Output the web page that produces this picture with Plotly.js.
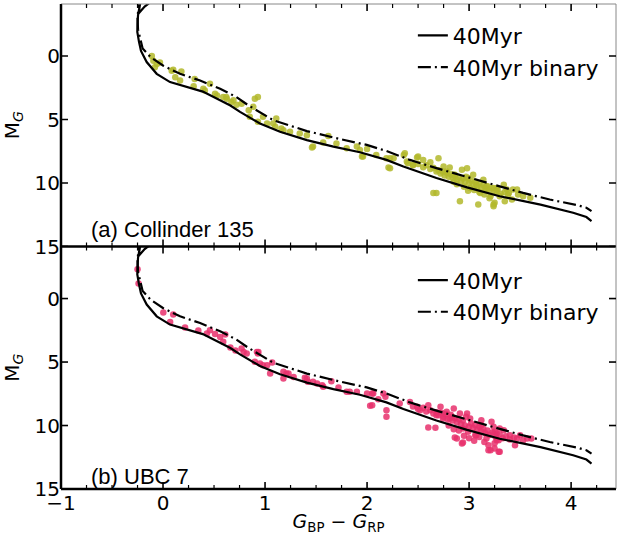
<!DOCTYPE html>
<html><head><meta charset="utf-8">
<script src="https://cdn.plot.ly/plotly-3.0.1.min.js"></script>
<style>html,body{margin:0;padding:0;background:#fff}#chart{width:621px;height:535px}</style>
</head><body><div id="chart"></div>
<script>
// 40 Myr isochrone (single stars): colour BP-RP and absolute G
const isoColor = [0.0,-0.1,-0.18,-0.24,-0.215,-0.23,-0.245,-0.25,-0.252,-0.235,-0.216,-0.16,-0.062,0.069,0.232,0.39,0.53,0.66,0.755,0.95,1.147,1.41,1.67,1.93,2.19,2.356,2.68,2.98,3.30,3.70,4.02,4.15,4.20];
const isoMag   = [-5.0,-4.4,-3.9,-3.35,-4.6,-3.9,-3.2,-2.5,-1.9,-1.1,-0.4,0.47,1.4,2.05,2.45,2.8,3.36,3.9,4.4,5.31,5.96,6.62,7.13,7.58,8.18,8.70,9.61,10.34,11.04,11.70,12.34,12.68,13.0];
// 40 Myr equal-mass binary sequence
const binColor = [-0.22,-0.24,-0.25,-0.245,-0.2,-0.12,0.003,0.167,0.363,0.56,0.72,0.836,1.08,1.41,1.735,1.997,2.19,2.42,2.68,2.98,3.30,3.53,3.79,4.06,4.15,4.20];
const binMag   = [-4.8,-3.9,-3.0,-2.1,-0.6,0.1,0.76,1.4,1.93,2.58,3.23,3.88,5.05,5.91,6.54,7.0,7.48,8.18,8.83,9.55,10.26,10.78,11.3,11.74,11.95,12.21];

// (a) Collinder 135 members
const colX = [-0.11,-0.095,-0.06,-0.03,-0.08,0.085,0.18,0.12,0.31,0.46,0.30,0.395,0.51,0.59,0.625,0.67,0.72,0.77,0.10,0.167,0.41,0.53,0.62,0.69,0.90,0.93,0.885,0.85,0.93,1.02,1.11,1.10,1.18,1.245,1.34,1.41,1.47,0.84,0.98,1.08,1.16,1.46,1.57,1.62,1.70,1.80,1.90,1.93,2.0,1.96,2.09,2.19,2.21,1.95,2.26,2.36,2.39,2.49,2.55,2.62,2.70,2.68,2.75,2.78,2.85,2.91,2.93,2.98,2.99,3.04,3.07,3.09,3.14,3.17,3.24,3.27,3.34,3.39,3.43,3.48,3.60,2.225,2.37,2.50,2.81,2.65,2.86,3.01,3.11,3.17,3.21,3.25,2.225,2.45,3.24,3.27,3.24,3.30,3.37,3.42,3.47,3.53,3.35,
  2.40,2.45,2.50,2.55,2.58,2.62,2.65,2.68,2.70,2.72,2.74,2.76,2.78,2.80,2.82,2.84,2.86,2.88,2.90,2.92,2.94,2.96,2.97,3.00,3.02,3.04,3.06,3.08,3.10,3.12,3.14,3.16,3.18,3.20,3.22,3.25,3.28,3.31,3.35,3.38,2.95,3.05,2.88,3.15,2.99,3.10,2.85,3.20];
const colY = [0.0,0.37,0.62,0.5,0.88,1.15,1.22,1.66,1.8,2.19,2.37,2.58,2.97,3.23,3.36,3.62,3.83,3.75,1.07,1.93,2.71,3.1,3.23,3.49,3.36,3.23,4.0,4.79,5.18,5.31,4.92,5.57,5.84,5.96,6.09,6.23,7.13,4.27,4.79,5.31,5.7,7.21,6.8,6.3,6.88,7.27,7.13,7.4,7.32,7.91,7.79,8.05,8.77,7.91,8.05,7.79,8.3,7.99,8.18,8.36,8.05,10.78,8.70,9.09,9.35,11.43,8.96,8.83,9.61,9.35,10.13,11.7,9.74,10.52,11.82,10.39,10.13,10.78,10.52,10.91,11.17,8.05,7.66,7.91,8.77,10.78,9.35,10.39,10.78,10.26,11.04,11.56,8.83,8.57,10.39,10.65,11.7,11.04,10.52,11.3,10.52,11.04,11.43,
  8.45,8.6,8.5,8.75,8.6,8.9,8.8,9.1,9.0,9.25,9.1,9.4,9.2,9.5,9.3,9.6,9.45,9.75,9.55,9.85,9.65,9.9,9.5,10.0,9.8,10.1,9.9,10.25,10.0,10.35,10.15,10.45,10.25,10.6,10.4,10.7,10.5,10.85,10.7,10.95,10.3,10.55,10.1,10.9,10.6,10.7,9.9,11.2];

// (b) UBC 7 members
const ubcX = [-0.25,-0.24,0.003,0.10,0.07,0.216,0.346,0.43,0.46,0.51,0.56,0.61,0.59,0.66,0.71,0.77,0.82,0.92,0.93,0.98,0.95,1.02,1.07,1.18,1.18,1.21,1.28,1.41,1.47,0.79,0.935,0.90,1.05,1.23,1.42,1.51,1.57,1.65,1.72,1.80,1.90,2.0,2.06,2.03,2.18,2.19,2.19,1.39,1.56,1.83,2.05,2.05,2.11,2.32,2.42,2.49,2.60,2.60,2.67,2.72,2.78,2.81,2.86,2.85,2.91,2.94,2.98,3.01,2.99,2.94,3.06,3.12,3.17,3.21,3.22,3.27,3.29,3.34,3.40,3.47,3.50,3.61,2.16,2.52,2.68,2.745,2.83,2.88,2.93,3.07,3.12,3.19,3.24,3.25,3.27,3.19,3.30,3.25,3.30,3.45,3.53,3.57,3.29,
  2.45,2.5,2.55,2.58,2.62,2.65,2.68,2.70,2.73,2.75,2.77,2.79,2.82,2.84,2.86,2.88,2.90,2.92,2.94,2.96,2.97,3.00,3.02,3.04,3.06,3.08,3.10,3.12,3.14,3.16,3.18,3.20,3.23,3.26,3.30,3.33,3.36,3.40,3.44,2.90,2.95,3.05,3.1,2.85,3.15,3.0,3.25,2.8];
const ubcY = [-2.3,-1.18,1.1,1.26,1.84,2.27,2.52,2.76,2.49,2.8,3.02,2.83,3.41,3.85,4.1,3.94,4.33,4.2,4.33,5.25,5.12,5.25,5.04,5.77,6.30,5.91,6.17,6.30,6.56,4.2,4.2,4.98,5.91,5.91,6.56,6.69,6.95,6.51,7.0,7.35,7.35,7.48,7.48,8.45,7.74,8.80,9.31,6.24,6.83,7.35,8.40,7.48,7.93,8.27,8.14,8.53,8.40,10.16,10.18,8.53,8.92,9.45,10.94,8.66,9.06,10.24,9.06,9.45,10.50,11.34,10.76,9.97,11.02,11.94,9.71,10.63,12.07,10.37,10.76,11.02,10.76,11.02,7.48,8.80,9.19,9.45,9.31,11.02,11.42,10.76,9.58,11.55,10.10,10.50,11.16,11.94,10.24,11.81,12.07,11.55,11.16,11.02,11.16,
  8.5,8.7,8.6,8.9,8.8,9.05,8.95,9.2,9.0,9.3,9.1,9.5,9.15,9.6,9.4,9.75,9.5,9.9,9.6,10.0,9.3,10.1,9.85,10.2,9.95,10.35,10.1,10.45,10.25,10.6,10.4,10.75,10.55,10.9,10.7,11.0,10.85,11.1,10.95,10.4,10.8,11.2,10.9,10.3,11.3,11.0,11.4,10.0];

// axis ticks
const xMajorTicks = [-1,0,1,2,3,4];
const yMajorTicks = [0,5,10,15];
const xRange = [-1.0,4.44];
const yRange = [15,-4.1];

const dashDot = '13px,4px,2px,4px';
const lineW = 2.2;
const FONT = 'DejaVu Sans, sans-serif';
const ANN_FONT = 'Liberation Sans, Arial, sans-serif';

const W = 621, H = 535, ML = 61, MR = 5, MT = 4, MB = 46;
const plotW = W - ML - MR, plotH = H - MT - MB;

const traces = [
  {x: colX, y: colY, xaxis:'x2', yaxis:'y2', type:'scatter', mode:'markers', showlegend:false,
   marker:{size:6.5, color:'#b3b92c', opacity:0.85}},
  {x: isoColor, y: isoMag, xaxis:'x2', yaxis:'y2', type:'scatter', mode:'lines', name:'40Myr',
   line:{color:'#000', width:lineW}, legend:'legend'},
  {x: binColor, y: binMag, xaxis:'x2', yaxis:'y2', type:'scatter', mode:'lines', name:'40Myr binary',
   line:{color:'#000', width:lineW, dash:dashDot}, legend:'legend'},
  {x: ubcX, y: ubcY, xaxis:'x', yaxis:'y', type:'scatter', mode:'markers', showlegend:false,
   marker:{size:6.5, color:'#e8306c', opacity:0.85}},
  {x: isoColor, y: isoMag, xaxis:'x', yaxis:'y', type:'scatter', mode:'lines', name:'40Myr',
   line:{color:'#000', width:lineW}, legend:'legend2'},
  {x: binColor, y: binMag, xaxis:'x', yaxis:'y', type:'scatter', mode:'lines', name:'40Myr binary',
   line:{color:'#000', width:lineW, dash:dashDot}, legend:'legend2'}
];

function makeX(extra) {
  return Object.assign({
    range: xRange.slice(), tickmode:'array', tickvals: xMajorTicks.slice(),
    ticktext: xMajorTicks.map(v => v < 0 ? '\u2212' + Math.abs(v) : String(v)),
    ticks:'', showline:false, showgrid:false, zeroline:false,
    tickfont:{family: FONT, size: 20, color:'#000'}
  }, extra);
}
function makeY(extra) {
  return Object.assign({
    range: yRange.slice(), tickmode:'array', tickvals: yMajorTicks.slice(),
    ticks:'', showline:false, showgrid:false, zeroline:false,
    tickfont:{family: FONT, size: 20, color:'#000'},
    title:{text:'M<sub><i>G</i></sub>', font:{family:FONT, size:20, color:'#000'}}
  }, extra);
}

// tick marks pointing inward on all four sides of both panels
const MAJ = 7, MIN = 4;
const panels = [
  {xref:'x2', yref:'y2', yb:0.5, yt:1.0},
  {xref:'x',  yref:'y',  yb:0.0, yt:0.5}
];
const xMinorTicks = [];
for (let i = -4; i <= 17; i++) { if (i % 4 !== 0) xMinorTicks.push(i / 4); }
const tickShapes = [];
panels.forEach(p => {
  const addX = (v, len, w) => {
    const dy = len / plotH;
    tickShapes.push({type:'line', xref:p.xref, yref:'paper', x0:v, x1:v, y0:p.yb, y1:p.yb + dy, line:{color:'#000', width:w}});
    tickShapes.push({type:'line', xref:p.xref, yref:'paper', x0:v, x1:v, y0:p.yt, y1:p.yt - dy, line:{color:'#000', width:w}});
  };
  xMajorTicks.forEach(v => addX(v, MAJ, 1.6));
  xMinorTicks.forEach(v => addX(v, MIN, 1.2));
  yMajorTicks.forEach(v => {
    const dx = MAJ / plotW;
    tickShapes.push({type:'line', xref:'paper', yref:p.yref, x0:0, x1:dx, y0:v, y1:v, line:{color:'#000', width:1.6}});
    tickShapes.push({type:'line', xref:'paper', yref:p.yref, x0:1, x1:1 - dx, y0:v, y1:v, line:{color:'#000', width:1.6}});
  });
});

const spineShapes = [
  {type:'line', xref:'paper', yref:'paper', x0:0, x1:0, y0:0, y1:1, line:{color:'#000', width:2.5}},
  {type:'line', xref:'paper', yref:'paper', x0:0, x1:1, y0:0, y1:0, line:{color:'#000', width:2.5}},
  {type:'line', xref:'paper', yref:'paper', x0:0, x1:1, y0:0.5, y1:0.5, line:{color:'#000', width:2.5}},
  {type:'line', xref:'paper', yref:'paper', x0:1, x1:1, y0:0, y1:1, line:{color:'#888', width:1}},
  {type:'line', xref:'paper', yref:'paper', x0:0, x1:1, y0:1, y1:1, line:{color:'#888', width:1}}
];

const layout = {
  width:W, height:H,
  margin:{l:ML, r:MR, t:MT, b:MB},
  paper_bgcolor:'#fff', plot_bgcolor:'#fff',
  font:{family: FONT, size:20, color:'#000'},
  xaxis: makeX({anchor:'y', domain:[0,1],
    title:{text:'<i>G</i><sub>BP</sub> \u2212 <i>G</i><sub>RP</sub>', font:{family:FONT, size:19, color:'#000'}, standoff:4}}),
  xaxis2: makeX({anchor:'y2', matches:'x', showticklabels:false}),
  yaxis: makeY({anchor:'x', domain:[0,0.5]}),
  yaxis2: makeY({anchor:'x2', domain:[0.5,1]}),
  legend: {x:0.634, y:0.978, xanchor:'left', yanchor:'top', font:{family:FONT, size:22, color:'#000'}},
  legend2: {x:0.634, y:0.4735, xanchor:'left', yanchor:'top', font:{family:FONT, size:22, color:'#000'}},
  shapes: spineShapes.concat(tickShapes),
  annotations: [
    {text:'(a) Collinder 135', xref:'paper', yref:'paper', x:0.05, y:0.535, xanchor:'left', yanchor:'middle', showarrow:false,
     font:{family:ANN_FONT, size:22, color:'#000'}},
    {text:'(b) UBC 7', xref:'paper', yref:'paper', x:0.05, y:0.026, xanchor:'left', yanchor:'middle', showarrow:false,
     font:{family:ANN_FONT, size:22, color:'#000'}}
  ]
};

Plotly.newPlot('chart', traces, layout, {displayModeBar:false, staticPlot:true});
</script>
</body></html>
